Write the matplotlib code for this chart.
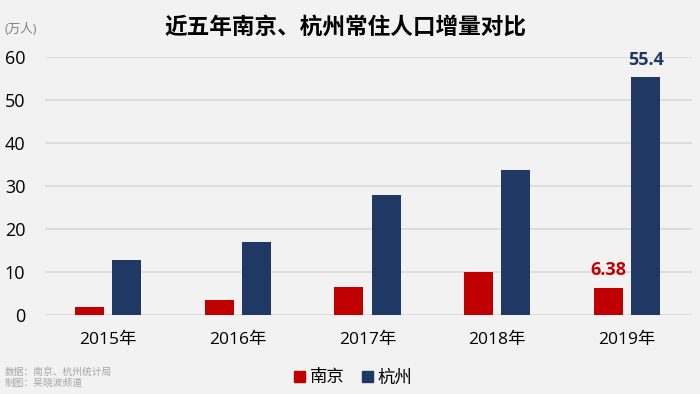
import matplotlib.pyplot as plt
import matplotlib.patches as mpatches
import numpy as np

plt.rcParams['font.family'] = ['Open Sans', 'Noto Sans CJK SC', 'DejaVu Sans']

years = ['2015年', '2016年', '2017年', '2018年', '2019年']
nanjing = [1.9, 3.5, 6.5, 10.1, 6.38]
hangzhou = [12.7, 17.0, 28.0, 33.8, 55.4]

red = '#c00000'
navy = '#1f3864'
bg = '#f2f2f2'

fig = plt.figure(figsize=(7, 3.94), dpi=100, facecolor=bg)
ax = fig.add_axes([0.064, 0.2005, 0.925, 0.6545], facecolor=bg)

x = np.arange(len(years))
w = 0.224
off = 0.143
ax.bar(x - off, nanjing, w, color=red, zorder=3)
ax.bar(x + off, hangzhou, w, color=navy, zorder=3)

ax.set_xlim(-0.487, 4.503)
ax.set_ylim(0, 60)
ax.set_yticks(range(0, 61, 10))
ax.yaxis.grid(True, color='#d9d9d9', linewidth=1.2, zorder=0)
ax.set_axisbelow(True)
for s in ax.spines.values():
    s.set_visible(False)
ax.tick_params(axis='y', length=0, pad=14, labelsize=13, labelcolor='#000000')
ax.tick_params(axis='x', length=0, pad=12, labelsize=12.5, labelcolor='#000000')
ax.set_xticks(x)
ax.set_xticklabels(years)

# data labels for 2019
ax.annotate('55.4', (x[-1] + off, hangzhou[-1]), xytext=(0, 12), textcoords='offset points',
            ha='center', va='center', fontsize=13, fontweight='bold', color=navy)
ax.annotate('6.38', (x[-1] - off, nanjing[-1]), xytext=(0, 12.5), textcoords='offset points',
            ha='center', va='center', fontsize=13, fontweight='bold', color=red)

fig.text(0.493, 0.932, '近五年南京、杭州常住人口增量对比', ha='center', va='center',
         fontsize=16.3, fontweight='bold', color='#000000',
         family=['Noto Sans CJK SC', 'DejaVu Sans'])
fig.text(0.007, 0.925, '(万人)', ha='left', va='center', fontsize=9, color='#7f7f7f')

fig.text(0.007, 0.056, '数据：南京、杭州统计局', ha='left', va='center', fontsize=7, color='#a6a6a6')
fig.text(0.007, 0.027, '制图：吴晓波频道', ha='left', va='center', fontsize=7, color='#a6a6a6')

handles = [mpatches.Patch(color=red, label='南京'), mpatches.Patch(color=navy, label='杭州')]
fig.legend(handles=handles, loc='center', bbox_to_anchor=(0.505, 0.04), ncol=2, frameon=False,
           fontsize=12.5, handlelength=0.6, handleheight=0.6, handletextpad=0.3, columnspacing=1.0)

fig.savefig('out.png', dpi=100, facecolor=bg)
